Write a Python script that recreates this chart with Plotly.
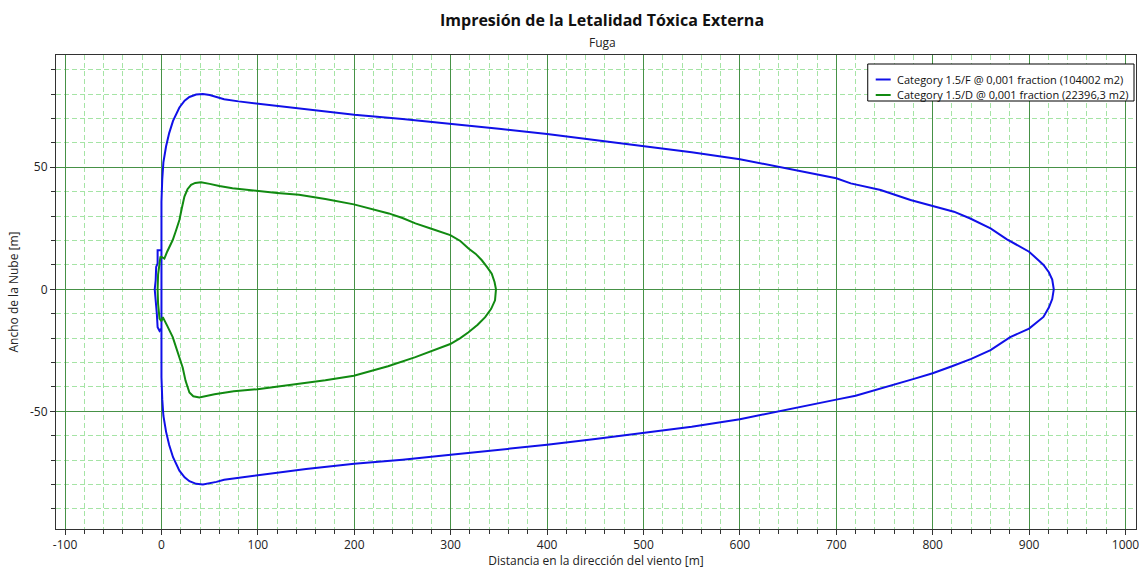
import plotly.graph_objects as go

# Contour of the external toxic lethality footprint, weather category 1.5/F
blue_x = [0, 0, 0, 0, 0.8, 2, 4.8, 8, 12, 18.6, 24, 29, 36, 43, 50, 57, 65, 80, 100,
          125, 150, 175, 200, 250, 300, 350, 400, 450, 500, 550, 600, 640, 660, 700,
          715, 746, 777, 800, 822, 839, 860, 877, 891, 900, 910, 915, 920.5, 924, 925.6,
          924, 920.5, 914.9, 900, 880.4, 860, 840, 820, 800, 780.5, 746, 720, 700, 670,
          646, 608, 600, 550, 500, 450, 400, 350, 300, 250, 200, 150, 100, 80, 65, 57,
          50, 43, 36, 29, 24, 18.6, 12, 8, 4.8, 2, 0.8, 0, 0, 0,
          -2, -4, -4.8, -6, -7, -6, -5.5, -4, -4, 0]
blue_y = [-16, 16, 25, 36, 45, 52, 58.6, 64, 69, 74.5, 77.3, 78.8, 79.8, 80, 79.6, 78.8, 77.9, 77, 76.1,
          74.8, 73.6, 72.5, 71.5, 69.8, 67.9, 65.8, 63.6, 61.2, 58.8, 56.2, 53.3, 50.3, 48.6, 45.5,
          43.4, 40.7, 36.6, 34.1, 31.8, 29.0, 25.0, 20.5, 17.3, 15.4, 11.8, 10, 7, 4, 0,
          -4, -7.5, -11.3, -16.1, -19.6, -24.9, -28.5, -31.5, -34.4, -36.7, -40.8, -43.6, -45.2, -47.6,
          -49.7, -52.5, -53.2, -56.3, -58.9, -61.3, -63.7, -65.9, -67.8, -69.8, -71.5, -73.6, -76.2, -77.1, -78, -78.9,
          -79.5, -80, -79.7, -78.6, -77, -74.3, -68.8, -63.8, -58.4, -51.8, -45, -36, -25, -16,
          -17, -15.5, -10, -4.4, 0, 3.7, 9.2, 10.6, 16, 16]

# Contour for weather category 1.5/D
green_x = [-1, 1, 3, 6, 9, 11.7, 15, 18.6, 21, 23.8, 27, 30.7, 35, 41, 50, 60, 73.7, 85, 99.6,
           120, 142.7, 170, 199.6, 220, 235.8, 250, 263.4, 280, 299.6, 310, 318.5, 326, 332.3,
           338, 342.6, 345.5, 347, 346, 342, 335.8, 328, 318.5, 310, 299.6, 280, 263.4, 235,
           199.6, 170, 142.7, 120, 99.6, 75, 55, 39.3, 33, 29, 25, 22, 17, 11.7, 6, 1.4,
           0, -2, -3.5, -4, -3.5, -2, -1]
green_y = [13.5, 13, 12.6, 15.5, 18, 20.2, 24, 28.4, 33, 38, 41, 42.8, 43.6, 43.9, 43.2, 42.3, 41.4, 40.9, 40.3,
           39.5, 38.7, 37, 34.8, 32.8, 31.1, 29.2, 27, 24.8, 22.2, 19.8, 16.7, 14.5, 11.9,
           9, 6.4, 3, 0, -4.5, -8, -11.4, -14.5, -17.6, -20, -22.4, -25.2, -27.8, -31.5,
           -35.4, -37.3, -38.8, -39.8, -40.9, -41.8, -43, -44.3, -43.8, -42.3, -37.5, -32, -25.5, -19.6, -15, -11.4,
           -13, -12, -6, 0, 6, 12, 13.5]

series_names = ["Category 1.5/F @ 0,001 fraction (104002 m2)",
                "Category 1.5/D @ 0,001 fraction (22396,3 m2)"]
series_colors = ["#1010E8", "#118A11"]

x_tickvals = [-100, 0, 100, 200, 300, 400, 500, 600, 700, 800, 900, 1000]
x_ticktext = ["-100", "0", "100", "200", "300", "400", "500", "600", "700", "800", "900", "1000"]
y_tickvals = [-50, 0, 50]
y_ticktext = ["-50", "0", "50"]

FONT = "Segoe UI, Open Sans, sans-serif"
MAJOR = "rgb(70,145,70)"
MINOR = "rgb(165,228,165)"

W, H = 1139, 569
ML, MR, MT, MB = 56, 0, 55, 40
PW, PH = W - ML - MR, H - MT - MB


def px_to_paper(px, py):
    return (px - ML) / PW, (H - MB - py) / PH


fig = go.Figure()
fig.add_trace(go.Scatter(x=blue_x, y=blue_y, mode="lines", name=series_names[0],
                         line=dict(color=series_colors[0], width=2)))
fig.add_trace(go.Scatter(x=green_x, y=green_y, mode="lines", name=series_names[1],
                         line=dict(color=series_colors[1], width=2)))

axis_common = dict(
    showgrid=True, gridcolor=MAJOR, gridwidth=1,
    zeroline=False,
    showline=True, linecolor="rgb(50,50,50)", linewidth=1, mirror=True,
    ticks="outside", ticklen=5, tickcolor="rgb(50,50,50)",
    tickfont=dict(family=FONT, size=12, color="#222"),
    ticklabeloverflow="allow",
)

fig.update_xaxes(
    range=[-109.4, 1010.9], tickmode="array", tickvals=x_tickvals, ticktext=x_ticktext,
    minor=dict(dtick=20, tick0=0, showgrid=True, gridcolor=MINOR, griddash="5px,3px",
               ticks="outside", ticklen=4, tickcolor="rgb(50,50,50)"),
    title=dict(text="Distancia en la dirección del viento [m]", standoff=6,
               font=dict(family=FONT, size=12, color="#222")),
    **axis_common,
)
fig.update_yaxes(
    range=[-98.2, 96.0], tickmode="array", tickvals=y_tickvals, ticktext=y_ticktext,
    minor=dict(dtick=10, tick0=0, showgrid=True, gridcolor=MINOR, griddash="5px,3px",
               ticks="outside", ticklen=4, tickcolor="rgb(50,50,50)"),
    title=dict(text="Ancho de la Nube [m]", standoff=8,
               font=dict(family=FONT, size=12, color="#222")),
    **axis_common,
)

# Titles
fig.add_annotation(text="<b>Impresión de la Letalidad Tóxica Externa</b>",
                   xref="paper", yref="paper", x=0.506, y=1.0738,
                   xanchor="center", yanchor="middle", showarrow=False,
                   font=dict(family=FONT, size=16, color="#111"))
fig.add_annotation(text="Fuga", xref="paper", yref="paper", x=0.506, y=1.0274,
                   xanchor="center", yanchor="middle", showarrow=False,
                   font=dict(family=FONT, size=12, color="#222"))

# Legend box with short line swatches
bx0, by0 = px_to_paper(870, 64)
bx1, by1 = px_to_paper(1137, 101)
fig.add_shape(type="rect", xref="paper", yref="paper", x0=bx0, y0=by1, x1=bx1, y1=by0,
              fillcolor="white", line=dict(color="black", width=1), layer="above")
for i, (name, color) in enumerate(zip(series_names, series_colors)):
    row_y = 79.5 + 15.5 * i
    sx0, sy = px_to_paper(878, row_y)
    sx1, _ = px_to_paper(893, row_y)
    tx, _ = px_to_paper(897, row_y)
    fig.add_shape(type="line", xref="paper", yref="paper", x0=sx0, y0=sy, x1=sx1, y1=sy,
                  line=dict(color=color, width=2), layer="above")
    fig.add_annotation(text=name, xref="paper", yref="paper", x=tx, y=sy,
                       xanchor="left", yanchor="middle", showarrow=False,
                       font=dict(family=FONT, size=11, color="#111"))

fig.update_layout(
    width=W, height=H,
    margin=dict(l=ML, r=MR, t=MT, b=MB),
    paper_bgcolor="white", plot_bgcolor="white",
    showlegend=False,
)

fig.write_html("out.html")
